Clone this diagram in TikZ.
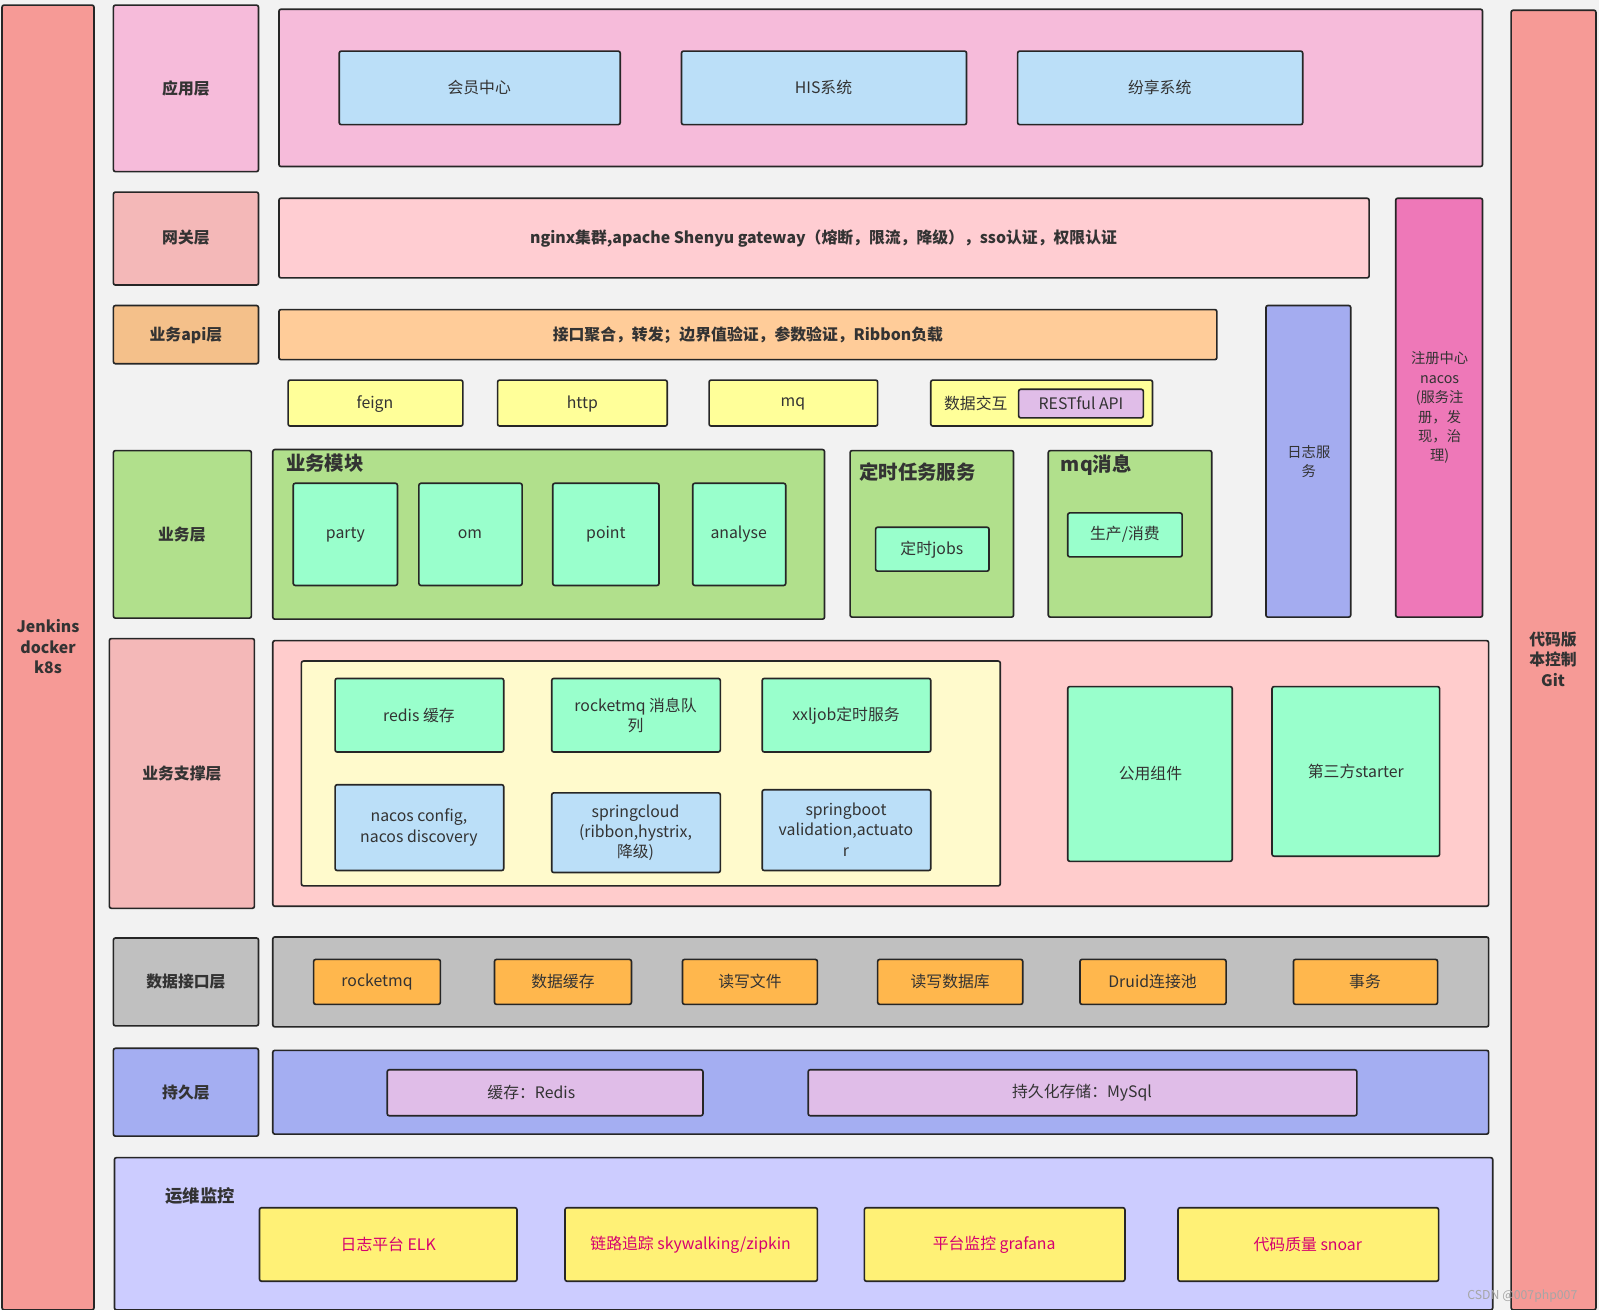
\documentclass[tikz,border=0pt]{standalone}
\usepackage{fontspec}
\setmainfont{Noto Sans CJK SC}
\begin{document}
\begin{tikzpicture}[x=1pt,y=-1pt,
 bx/.style={draw=black!85,line width=1.6pt,rounded corners=2pt},
 t/.style={font=\fontsize{15.5}{20}\selectfont,text=black!80,align=center,inner sep=0pt},
 tb/.style={font=\fontsize{15.5}{20}\selectfont\bfseries,text=black!80,align=center,inner sep=0pt}]
\newcommand\B[7]{\draw[bx,fill=#6] (#2,#3) rectangle (#4,#5) node[midway,#7] (#1) {};}
\newcommand\T[4]{\node[#4] (#1) at (#2) {#3};}
\definecolor{red1}{HTML}{F69A96}\definecolor{pink1}{HTML}{F6BBDA}\definecolor{blue1}{HTML}{BBDFF8}
\definecolor{gwl}{HTML}{F4B8B8}\definecolor{gwb}{HTML}{FFCDD2}\definecolor{orl}{HTML}{F4C08A}\definecolor{orb}{HTML}{FFCC99}
\definecolor{yel}{HTML}{FFFF99}\definecolor{grn}{HTML}{B1E08C}\definecolor{mint}{HTML}{99FFCC}\definecolor{spk}{HTML}{FFCCCC}
\definecolor{sy}{HTML}{FFFACC}\definecolor{logc}{HTML}{A4ACF0}\definecolor{reg}{HTML}{EE78B8}\definecolor{gry}{HTML}{C0C0C0}
\definecolor{org}{HTML}{FFB74D}\definecolor{per}{HTML}{A4AEF2}\definecolor{lil}{HTML}{E0BDE8}\definecolor{ops}{HTML}{CCCCFF}
\definecolor{oy}{HTML}{FFF176}\definecolor{mag}{HTML}{D6006F}
\fill[black!5] (0,0) rectangle (1565,1282);
\useasboundingbox (0,0) rectangle (1565,1282);
% sides
\B{l}{2}{5}{92}{1282}{red1}{}\T{lt}{47,633}{Jenkins\\docker\\k8s}{tb}
\B{r}{1479}{10}{1562}{1282}{red1}{}\T{rt}{1520,645}{代码版\\本控制\\Git}{tb}
% app
\B{a}{111}{5}{253}{168}{pink1}{}\T{at}{182,87}{应用层}{tb}
\B{ab}{273}{9}{1451}{163}{pink1}{}
\B{a1}{332}{50}{607}{122}{blue1}{}\T{a1t}{469,86}{会员中心}{t}
\B{a2}{667}{50}{946}{122}{blue1}{}\T{a2t}{806,86}{HIS系统}{t}
\B{a3}{996}{50}{1275}{122}{blue1}{}\T{a3t}{1135,86}{纷享系统}{t}
% gateway
\B{g}{111}{188}{253}{279}{gwl}{}\T{gt}{182,233}{网关层}{tb}
\B{gb}{273}{194}{1340}{272}{gwb}{}\T{gbt}{806,233}{nginx集群,apache Shenyu gateway（熔断，限流，降级），sso认证，权限认证}{tb}
\B{rg}{1366}{194}{1451}{604}{reg}{}\T{rgt}{1409,399}{注册中心\\nacos\\(服务注\\册，发\\现，治\\理)}{t,font=\fontsize{14}{19}\selectfont}
% api
\B{p}{111}{299}{253}{356}{orl}{}\T{pt}{182,328}{业务api层}{tb}
\B{pb}{273}{303}{1191}{352}{orb}{}\T{pbt}{732,328}{接口聚合，转发；边界值验证，参数验证，Ribbon负载}{tb}
\B{lg}{1239}{299}{1322}{604}{logc}{}\T{lgt}{1281,452}{日志服\\务}{t,font=\fontsize{14}{19}\selectfont}
\B{f1}{282}{372}{453}{417}{yel}{}\T{f1t}{367,395}{feign}{t}
\B{f2}{487}{372}{653}{417}{yel}{}\T{f2t}{570,395}{http}{t}
\B{f3}{694}{372}{859}{417}{yel}{}\T{f3t}{776,395}{mq}{t}
\B{f4}{911}{372}{1128}{417}{yel}{}\T{f4t}{955,395}{数据交互}{t}
\B{f5}{997}{381}{1119}{409}{lil}{}\T{f5t}{1058,395}{RESTful API}{t}
% business
\B{b}{111}{441}{246}{605}{grn}{}\T{bt}{178,523}{业务层}{tb}
\B{bm}{267}{440}{807}{606}{grn}{}\T{bmt}{318,453}{业务模块}{tb,font=\fontsize{19}{20}\selectfont\bfseries}
\B{m1}{287}{473}{389}{573}{mint}{}\T{m1t}{338,523}{party}{t}
\B{m2}{410}{473}{511}{573}{mint}{}\T{m2t}{460,523}{om}{t}
\B{m3}{541}{473}{645}{573}{mint}{}\T{m3t}{593,523}{point}{t}
\B{m4}{678}{473}{769}{573}{mint}{}\T{m4t}{723,523}{analyse}{t}
\B{ds}{832}{441}{992}{604}{grn}{}\T{dst}{898,462}{定时任务服务}{tb,font=\fontsize{19}{20}\selectfont\bfseries}
\B{dj}{857}{516}{968}{559}{mint}{}\T{djt}{912,538}{定时jobs}{t}
\B{mq}{1026}{441}{1186}{604}{grn}{}\T{mqt}{1073,455}{mq消息}{tb,font=\fontsize{19}{20}\selectfont\bfseries}
\B{mp}{1045}{502}{1157}{545}{mint}{}\T{mpt}{1101,523}{生产/消费}{t}
% support
\B{s}{107}{625}{249}{889}{gwl}{}\T{st}{178,757}{业务支撑层}{tb}
\B{sb}{267}{627}{1457}{887}{spk}{}
\B{sy}{295}{647}{979}{867}{sy}{}
\B{s1}{328}{664}{493}{736}{mint}{}\T{s1t}{410,700}{redis 缓存}{t}
\B{s2}{540}{664}{705}{736}{mint}{}\T{s2t}{622,700}{rocketmq 消息队\\列}{t}
\B{s3}{746}{664}{911}{736}{mint}{}\T{s3t}{828,700}{xxljob定时服务}{t}
\B{s4}{328}{768}{493}{852}{blue1}{}\T{s4t}{410,810}{nacos config,\\nacos discovery}{t}
\B{s5}{540}{776}{705}{854}{blue1}{}\T{s5t}{622,815}{springcloud\\(ribbon,hystrix,\\降级)}{t}
\B{s6}{746}{773}{911}{852}{blue1}{}\T{s6t}{828,812}{springboot\\validation,actuato\\r}{t}
\B{s7}{1045}{672}{1206}{843}{mint}{}\T{s7t}{1126,757}{公用组件}{t}
\B{s8}{1245}{672}{1409}{838}{mint}{}\T{s8t}{1327,755}{第三方starter}{t}
% data
\B{d}{111}{918}{253}{1004}{gry}{}\T{dt}{182,961}{数据接口层}{tb}
\B{db}{267}{917}{1457}{1005}{gry}{}
\B{d1}{307}{939}{431}{983}{org}{}\T{d1t}{369,961}{rocketmq}{t}
\B{d2}{484}{939}{618}{983}{org}{}\T{d2t}{551,961}{数据缓存}{t}
\B{d3}{668}{939}{800}{983}{org}{}\T{d3t}{734,961}{读写文件}{t}
\B{d4}{859}{939}{1001}{983}{org}{}\T{d4t}{930,961}{读写数据库}{t}
\B{d5}{1057}{939}{1200}{983}{org}{}\T{d5t}{1128,961}{Druid连接池}{t}
\B{d6}{1266}{939}{1407}{983}{org}{}\T{d6t}{1336,961}{事务}{t}
% persist
\B{c}{111}{1026}{253}{1112}{per}{}\T{ct}{182,1069}{持久层}{tb}
\B{cb}{267}{1028}{1457}{1110}{per}{}
\B{c1}{379}{1047}{688}{1092}{lil}{}\T{c1t}{520,1069}{缓存：Redis}{t}
\B{c2}{791}{1047}{1328}{1092}{lil}{}\T{c2t}{1059,1069}{持久化存储：MySql}{t}
% ops
\B{o}{112}{1133}{1461}{1282}{ops}{}\T{ot}{196,1171}{运维监控}{tb,font=\fontsize{17}{20}\selectfont\bfseries}
\B{o1}{254}{1182}{506}{1254}{oy}{}\T{o1t}{380,1218}{日志平台 ELK}{t,text=mag}
\B{o2}{553}{1182}{800}{1254}{oy}{}\T{o2t}{676,1218}{链路追踪 skywalking/zipkin}{t,text=mag}
\B{o3}{846}{1182}{1101}{1254}{oy}{}\T{o3t}{973,1218}{平台监控 grafana}{t,text=mag}
\B{o4}{1153}{1182}{1408}{1254}{oy}{}\T{o4t}{1280,1218}{代码质量 snoar}{t,text=mag}
\T{wm}{1490,1268}{CSDN @007php007}{t,font=\fontsize{12}{14}\selectfont,text=black!35}
\end{tikzpicture}
\end{document}
